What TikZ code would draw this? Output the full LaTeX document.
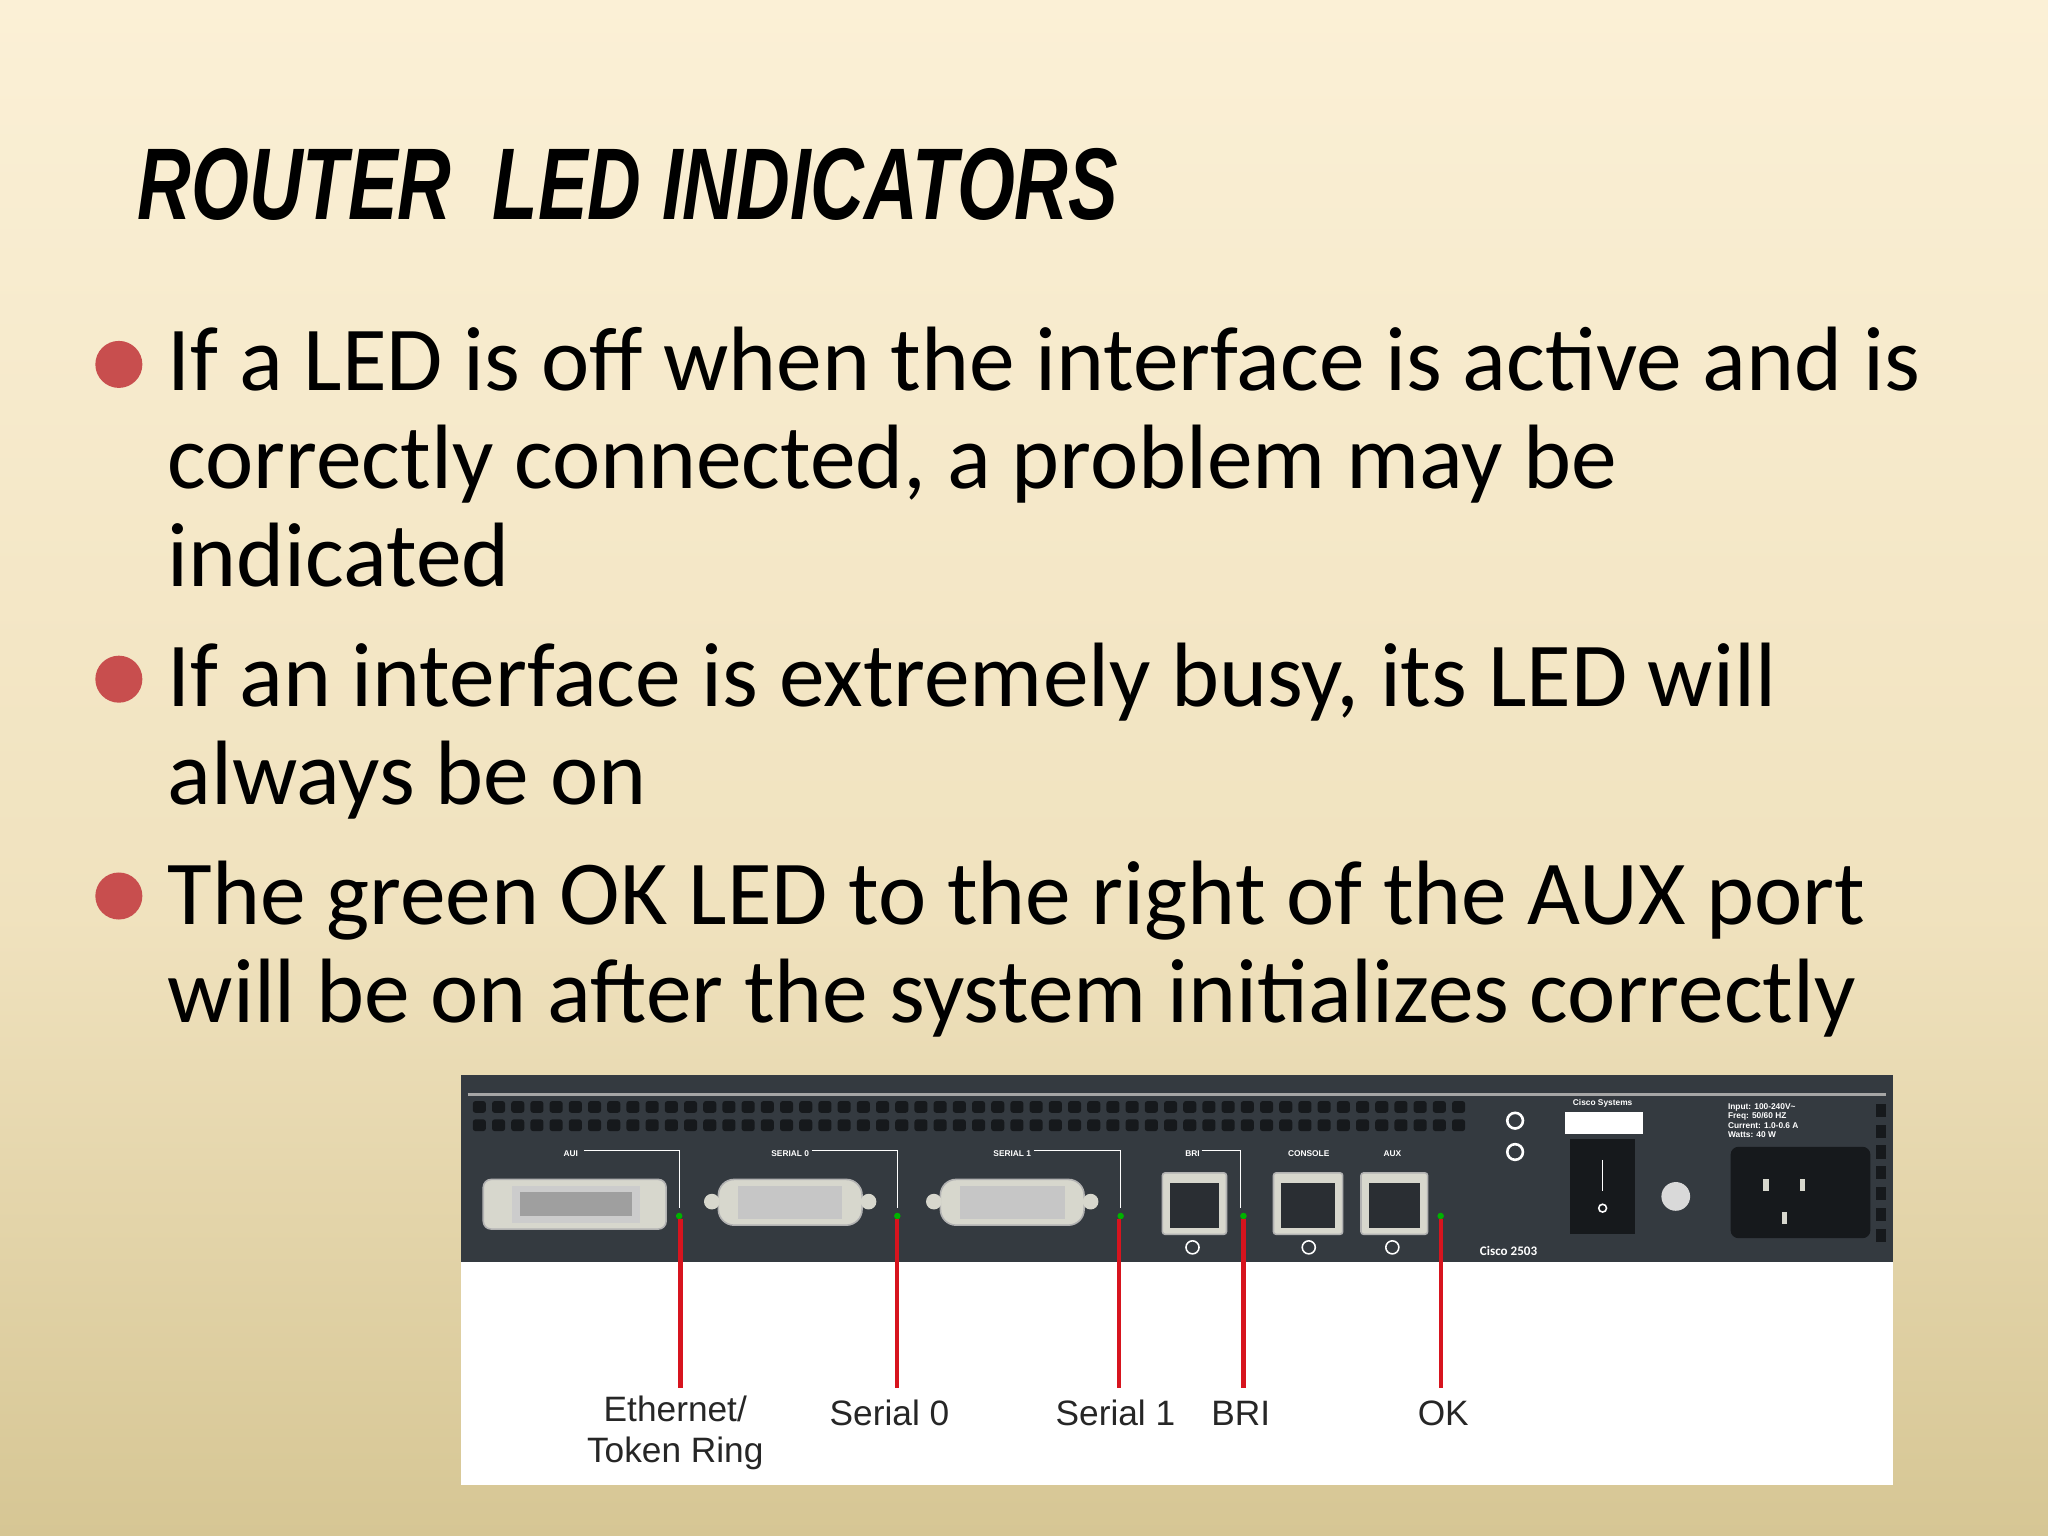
\documentclass[tikz,border=0pt]{standalone}
\usepackage{fontspec}
\setmainfont{Carlito}
\newfontfamily\arialf{Liberation Sans}
\definecolor{bgtop}{RGB}{251,240,214}
\definecolor{bgmid}{RGB}{240,226,190}
\definecolor{bgbot}{RGB}{214,198,148}
\definecolor{bul}{RGB}{200,78,78}
\definecolor{panel}{RGB}{52,58,64}
\definecolor{vent}{RGB}{22,25,28}
\definecolor{metal}{RGB}{215,215,205}
\definecolor{ledred}{RGB}{215,20,30}
\tikzset{
  bodytxt/.style={anchor=base west,font=\fontsize{35}{37.5}\selectfont,align=left,inner sep=0pt},
  bulletdot/.style={circle,fill=bul,minimum size=18pt,inner sep=0pt},
  lbl/.style={font=\arialf\fontsize{13.5}{15.5}\selectfont,align=center,inner sep=0pt,text=black!85},
  tiny/.style={font=\arialf\bfseries\fontsize{3.2}{3.5}\selectfont,text=white!85,inner sep=0pt},
  redline/.style={draw=ledred,line width=1.6pt},
  wline/.style={draw=white!80,line width=0.5pt},
  portbox/.style={draw=gray!60,fill=metal,line width=0.6pt,rounded corners=3pt},
}
\begin{document}
\begin{tikzpicture}[x=0.5pt,y=-0.5pt]
\useasboundingbox (0,0) rectangle (1568,1176);
\shade[top color=bgtop,bottom color=bgmid] (0,0) rectangle (1568,700);
\shade[top color=bgmid,bottom color=bgbot] (0,700) rectangle (1568,1176);
% title
\node[anchor=base west,inner sep=0pt,xscale=0.73,font=\arialf\bfseries\itshape\fontsize{39}{40}\selectfont] (title) at (105,168) {ROUTER\ \ LED INDICATORS};
% bullets
\node[bulletdot] (b1) at (91,279) {};
\node[bulletdot] (b2) at (91,520) {};
\node[bulletdot] (b3) at (91,686) {};
\node[bodytxt] (t1) at (128,449) {If a LED is off when the interface is active and is\\correctly connected, a problem may be\\indicated};
\node[bodytxt] (t2) at (128,616) {If an interface is extremely busy, its LED will\\always be on};
\node[bodytxt] (t3) at (128,783) {The green OK LED to the right of the AUX port\\will be on after the system initializes correctly};
% router panel
\fill[white] (353,823) rectangle (1449,1137);
\fill[panel] (353,823) rectangle (1449,966);
\draw[gray!70,line width=0.8pt] (358,838) -- (1444,838);
\foreach \i in {0,...,51}{
  \fill[vent,rounded corners=1pt] (362+\i*14.7,843) rectangle ++(10,9);
  \fill[vent,rounded corners=1pt] (362+\i*14.7,857) rectangle ++(10,9);
}
\foreach \j in {0,...,6}{\fill[vent] (1436,845+\j*16) rectangle ++(8,10);}
% port labels and leader lines
\node[tiny] (laui) at (437,883) {AUI};
\draw[wline] (447,881) -- (520,881) -- (520,925);
\node[tiny] (ls0) at (605,883) {SERIAL 0};
\draw[wline] (622,881) -- (687,881) -- (687,925);
\node[tiny] (ls1) at (775,883) {SERIAL 1};
\draw[wline] (792,881) -- (858,881) -- (858,925);
\node[tiny] (lbri) at (913,883) {BRI};
\draw[wline] (920,881) -- (950,881) -- (950,925);
\node[tiny] (lcon) at (1002,883) {CONSOLE};
\node[tiny] (laux) at (1066,883) {AUX};
% AUI
\draw[portbox] (370,903) rectangle (510,941);
\fill[gray!40] (392,908) rectangle (490,936);
\fill[gray!75] (398,913) rectangle (484,931);
% serial 0 & 1
\foreach \cx in {605,775}{
  \draw[portbox,rounded corners=6pt] (\cx-55,903) rectangle (\cx+55,938);
  \fill[metal] (\cx-60,920) circle (6);
  \fill[metal] (\cx+60,920) circle (6);
  \fill[gray!45] (\cx-40,908) rectangle (\cx+40,933);
}
% RJ45s
\foreach \xl/\xr in {890/939,975/1028,1042/1093}{
  \draw[portbox,rounded corners=1pt] (\xl,898) rectangle (\xr,945);
  \fill[panel!80!black] (\xl+6,906) rectangle (\xr-6,940);
}
\foreach \cx in {913,1002,1066}{\draw[white!80,line width=0.6pt] (\cx,955) circle (5);}
% LEDs
\foreach \lx in {520,687,858,952,1103}{\fill[green!70!black] (\lx,931) circle (2.5);}
% right side parts
\draw[white!80,line width=1pt] (1160,858) circle (6);
\draw[white!80,line width=1pt] (1160,882) circle (6);
\node[tiny] (lcs) at (1227,845) {Cisco Systems};
\fill[white!90] (1198,851) -- (1258,851) -- (1258,868) -- (1198,868) -- cycle;
\fill[vent] (1202,872) rectangle (1252,945);
\draw[white!70,line width=0.6pt] (1227,888) -- (1227,912);
\draw[white!70,line width=0.6pt] (1227,925) circle (3);
\fill[gray!30] (1283,916) circle (11);
\node[tiny,align=left] (lpow) at (1350,858) {Input: 100-240V\textasciitilde\\Freq: 50/60 HZ\\Current: 1.0-0.6 A\\Watts: 40 W};
\fill[vent,rounded corners=3pt] (1325,878) rectangle (1432,948);
\foreach \px/\py in {1350/903,1378/903,1364/928}{\fill[metal] (\px,\py) rectangle ++(4,9);}
\node[font=\bfseries\fontsize{5}{6}\selectfont,text=white!85,inner sep=0pt] (lmodel) at (1155,958) {Cisco 2503};
% red indicator lines and labels
\coordinate (le) at (521,933);
\coordinate (l0) at (687,933);
\coordinate (l1) at (857,933);
\coordinate (lb) at (952,933);
\coordinate (lo) at (1103,933);
\node[lbl] (eth) at (517,1097) {Ethernet/\\Token Ring};
\node[lbl] (s0) at (681,1082) {Serial 0};
\node[lbl] (s1) at (854,1082) {Serial 1};
\node[lbl] (bri) at (950,1082) {BRI};
\node[lbl] (ok) at (1105,1082) {OK};
\draw[redline] (le) -- (le |- 0,1063);
\draw[redline] (l0) -- (l0 |- 0,1063);
\draw[redline] (l1) -- (l1 |- 0,1063);
\draw[redline] (lb) -- (lb |- 0,1063);
\draw[redline] (lo) -- (lo |- 0,1063);
\end{tikzpicture}
\end{document}
